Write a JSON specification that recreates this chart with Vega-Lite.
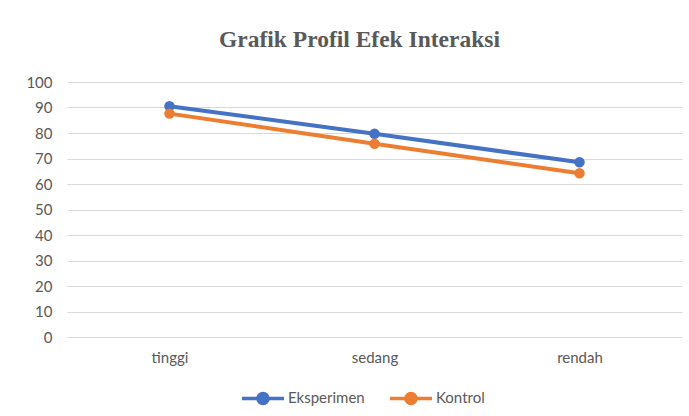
{
  "$schema": "https://vega.github.io/schema/vega-lite/v6.json",
  "width": 615,
  "height": 255,
  "autosize": {"type": "none"},
  "padding": {"left": 67, "top": 82, "right": 7, "bottom": 79},
  "background": "white",
  "title": {
    "text": "Grafik Profil Efek Interaksi",
    "font": "Liberation Serif",
    "fontSize": 23.5,
    "fontWeight": "bold",
    "color": "#595959",
    "anchor": "middle",
    "dx": -15,
    "offset": 24
  },
  "data": {
    "values": [
      {"kategori": "tinggi", "kelompok": "Eksperimen", "nilai": 90.5},
      {"kategori": "sedang", "kelompok": "Eksperimen", "nilai": 79.7},
      {"kategori": "rendah", "kelompok": "Eksperimen", "nilai": 68.5},
      {"kategori": "tinggi", "kelompok": "Kontrol", "nilai": 87.6},
      {"kategori": "sedang", "kelompok": "Kontrol", "nilai": 75.8},
      {"kategori": "rendah", "kelompok": "Kontrol", "nilai": 64.2}
    ]
  },
  "encoding": {
    "x": {
      "field": "kategori",
      "type": "nominal",
      "sort": ["tinggi", "sedang", "rendah"],
      "scale": {"paddingInner": 0, "paddingOuter": 0},
      "axis": {
        "title": null,
        "labelAngle": 0,
        "ticks": false,
        "domain": false,
        "labelFont": "Lato",
        "labelFontSize": 15,
        "labelColor": "#595959",
        "labelPadding": 13
      }
    },
    "y": {
      "field": "nilai",
      "type": "quantitative",
      "scale": {"domain": [0, 100], "nice": false},
      "axis": {
        "title": null,
        "values": [0, 10, 20, 30, 40, 50, 60, 70, 80, 90, 100],
        "ticks": false,
        "domain": false,
        "grid": true,
        "gridColor": "#d9d9d9",
        "gridWidth": 1,
        "labelFont": "Lato",
        "labelFontSize": 15,
        "labelColor": "#595959",
        "labelPadding": 15
      }
    },
    "color": {
      "field": "kelompok",
      "type": "nominal",
      "scale": {"domain": ["Eksperimen", "Kontrol"], "range": ["#4472C4", "#ED7D31"]},
      "legend": {
        "title": null,
        "orient": "none",
        "direction": "horizontal",
        "legendX": 173,
        "legendY": 293,
        "symbolType": "M-1,0H1M-0.24,0A0.24,0.24 0 1,0 0.24,0A0.24,0.24 0 1,0 -0.24,0Z",
        "symbolSize": 1764,
        "symbolStrokeWidth": 3.5,
        "labelFont": "Lato",
        "labelFontSize": 15,
        "labelColor": "#595959",
        "labelOffset": 2,
        "columnPadding": 18,
        "encode": {
          "symbols": {
            "update": {
              "fill": {"scale": "color", "field": "value"},
              "stroke": {"scale": "color", "field": "value"},
              "opacity": {"value": 1}
            }
          }
        }
      }
    }
  },
  "layer": [
    {"mark": {"type": "line", "strokeWidth": 4}},
    {"mark": {"type": "point", "filled": true, "size": 110, "opacity": 1}}
  ],
  "config": {
    "view": {"stroke": null}
  }
}
